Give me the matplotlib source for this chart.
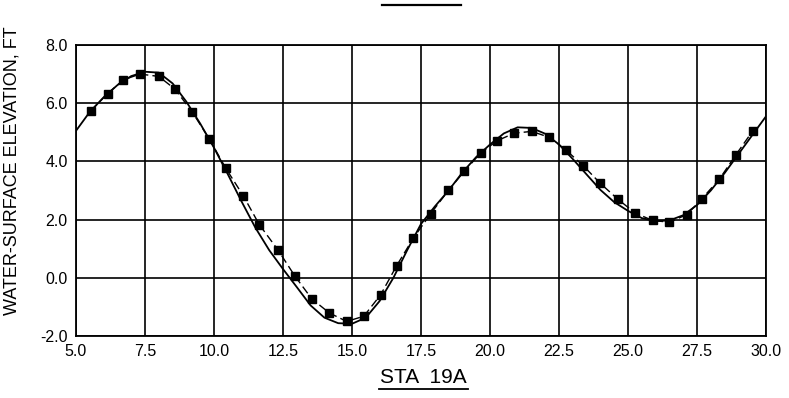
import numpy as np
import matplotlib
matplotlib.use("Agg")
import matplotlib.pyplot as plt
from matplotlib.lines import Line2D

plt.rcParams['font.family'] = ['Liberation Sans', 'DejaVu Sans']

# observed points (dashed, square markers)
obs_time = [5.54, 6.15, 6.71, 7.32, 8.00, 8.59, 9.21, 9.83, 10.43, 11.06,
            11.64, 12.33, 12.93, 13.54, 14.18, 14.81, 15.43, 16.04, 16.62, 17.22,
            17.85, 18.49, 19.07, 19.66, 20.26, 20.88, 21.51, 22.14, 22.75, 23.38,
            23.99, 24.62, 25.25, 25.89, 26.50, 27.13, 27.68, 28.31, 28.91, 29.52]
obs_elev = [5.74, 6.33, 6.80, 7.00, 6.92, 6.48, 5.70, 4.77, 3.76, 2.82,
            1.83, 0.94, 0.06, -0.72, -1.21, -1.50, -1.32, -0.58, 0.42, 1.36,
            2.20, 3.00, 3.66, 4.29, 4.71, 4.97, 5.03, 4.83, 4.39, 3.85,
            3.25, 2.71, 2.23, 1.97, 1.91, 2.17, 2.72, 3.39, 4.23, 5.05]

# computed curve (solid)
calc_time = [5.0, 5.5, 6.0, 6.5, 7.0, 7.5, 8.0, 8.5, 9.0, 9.5,
             10.0, 10.5, 11.0, 11.5, 12.0, 12.5, 13.0, 13.5, 14.0, 14.5,
             15.0, 15.5, 16.0, 16.5, 17.0, 17.5, 18.0, 18.5, 19.0, 19.5,
             20.0, 20.5, 21.0, 21.5, 22.0, 22.5, 23.0, 23.5, 24.0, 24.5,
             25.0, 25.5, 26.0, 26.5, 27.0, 27.5, 28.0, 28.5, 29.0, 29.5, 30.0]
calc_elev = [5.05, 5.70, 6.20, 6.62, 6.93, 7.08, 7.05, 6.68, 6.05, 5.30,
             4.47, 3.56, 2.62, 1.72, 0.95, 0.30, -0.32, -0.95, -1.37, -1.56,
             -1.58, -1.37, -0.80, 0.00, 0.95, 1.85, 2.45, 3.00, 3.62, 4.15,
             4.58, 4.96, 5.17, 5.15, 4.95, 4.58, 4.08, 3.55, 3.02, 2.60,
             2.30, 2.05, 1.95, 1.97, 2.15, 2.50, 3.00, 3.60, 4.25, 4.90, 5.55]

x_ticks = [5.0, 7.5, 10.0, 12.5, 15.0, 17.5, 20.0, 22.5, 25.0, 27.5, 30.0]
y_ticks = [-2.0, 0.0, 2.0, 4.0, 6.0, 8.0]

fig = plt.figure(figsize=(7.89, 3.98), dpi=100)
ax = fig.add_axes([0.0963, 0.1558, 0.8746, 0.7312])

ax.plot(calc_time, calc_elev, color='black', linewidth=1.3, zorder=3)
ax.plot(obs_time, obs_elev, color='black', linewidth=1.0, linestyle=(0, (6, 3)),
        marker='s', markersize=5.5, zorder=4)

ax.set_xlim(5.0, 30.0)
ax.set_ylim(-2.0, 8.0)
ax.set_xticks(x_ticks)
ax.set_yticks(y_ticks)
ax.set_xticklabels([f'{v:.1f}' for v in x_ticks])
ax.set_yticklabels([f'{v:.1f}' for v in y_ticks])
ax.tick_params(length=0, labelsize=11.5, pad=6, colors='black')
ax.grid(True, color='black', linewidth=1.2)
ax.set_axisbelow(True)
for s in ax.spines.values():
    s.set_linewidth(1.3)

ax.set_ylabel('WATER-SURFACE ELEVATION, FT', fontsize=13)
ax.yaxis.set_label_coords(-0.080, 0.567)

fig.text(0.536, 0.052, 'STA  19A', ha='center', va='center', fontsize=15)
fig.add_artist(Line2D([379 / 789, 468 / 789], [1 - 389 / 398, 1 - 389 / 398],
                      color='black', linewidth=1.3))
# clipped title underline at top
fig.add_artist(Line2D([382 / 789, 461 / 789], [1 - 5 / 398, 1 - 5 / 398],
                      color='black', linewidth=1.6))

fig.savefig('out.png', dpi=100)
